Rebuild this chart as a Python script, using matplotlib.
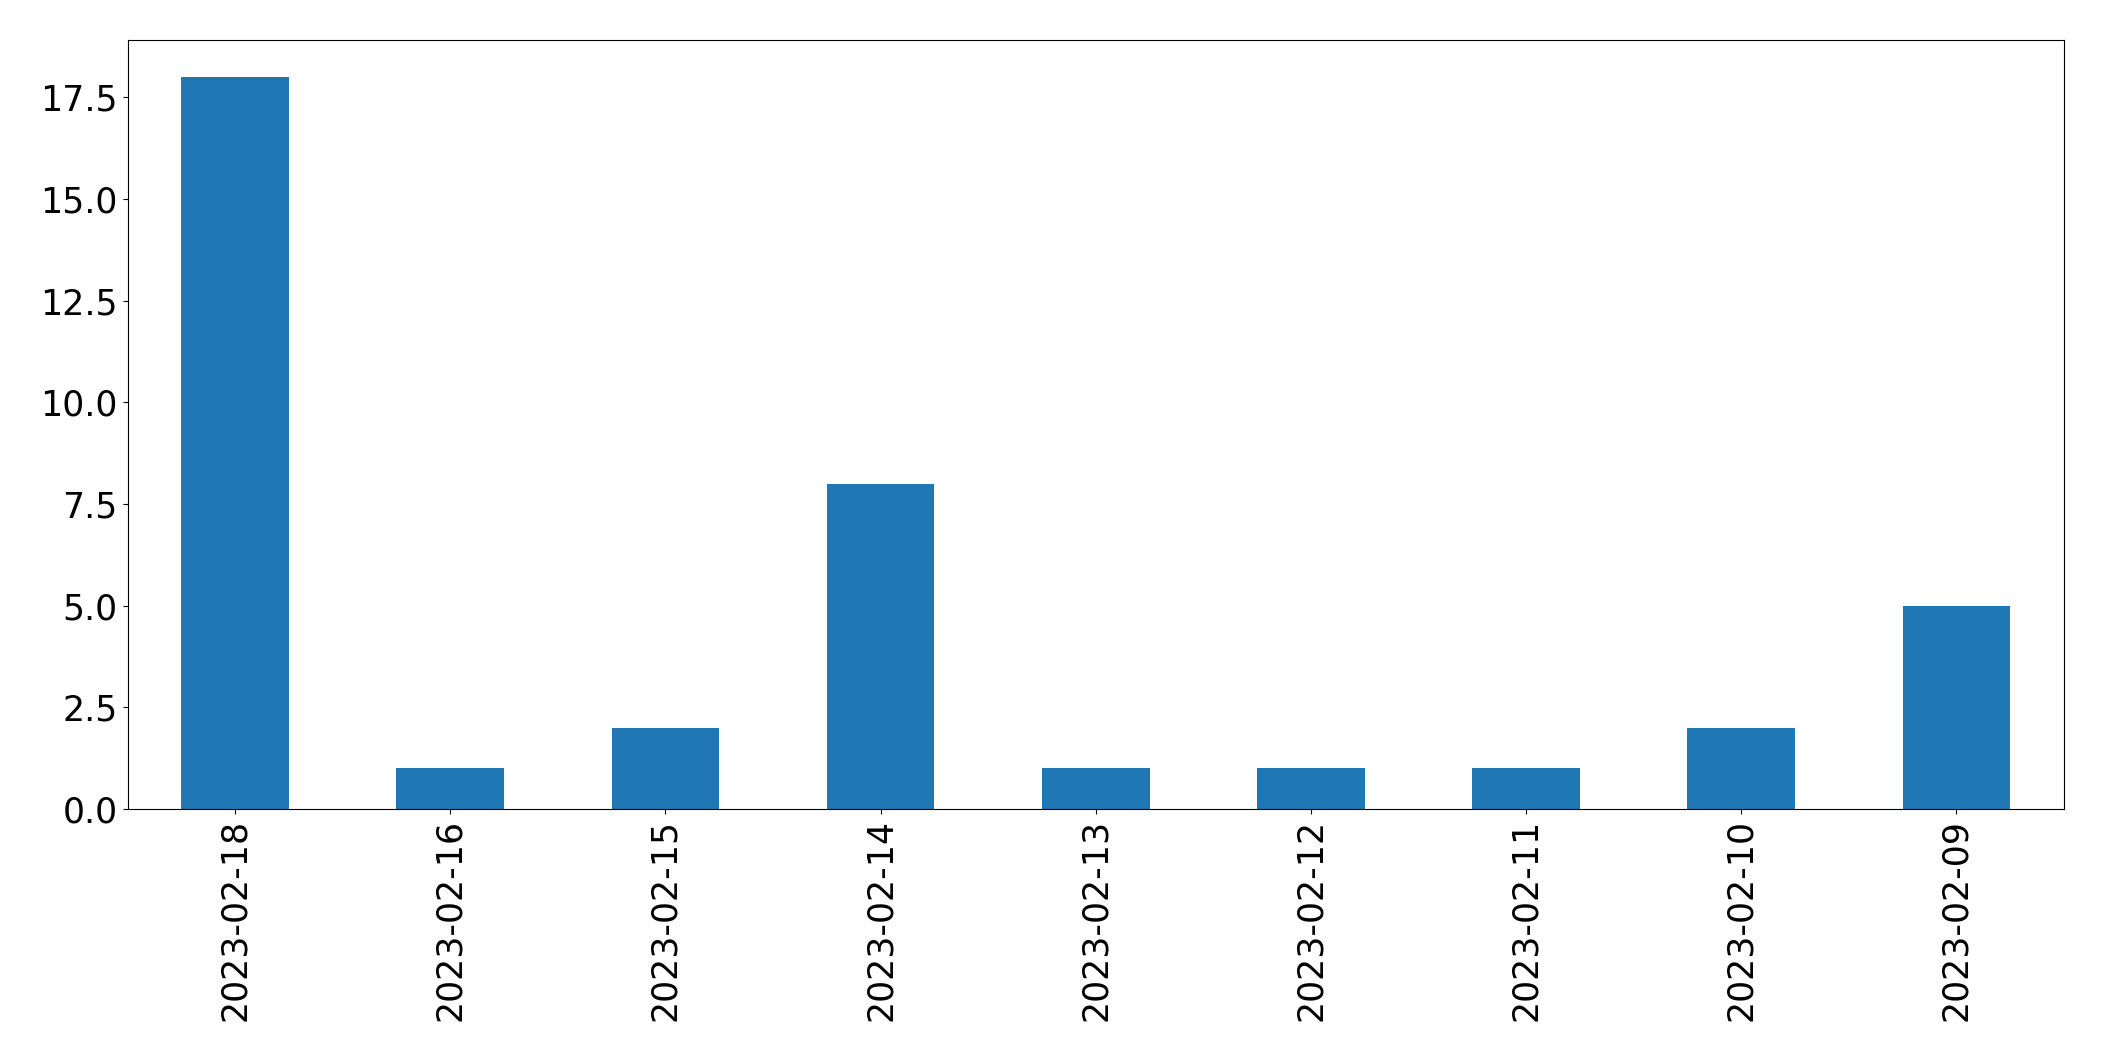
import matplotlib
matplotlib.use("Agg")
import matplotlib.pyplot as plt

dates = ["2023-02-18", "2023-02-16", "2023-02-15", "2023-02-14", "2023-02-13",
         "2023-02-12", "2023-02-11", "2023-02-10", "2023-02-09"]
counts = [18, 1, 2, 8, 1, 1, 1, 2, 5]

fig = plt.figure(figsize=(21.04, 10.61), dpi=100)
ax = fig.add_axes([0.0606, 0.2375, 0.9204, 0.7245])
x = list(range(len(dates)))
ax.bar(x, counts, width=0.5, color="#1f77b4")
ax.set_xlim(-0.5, len(dates) - 0.5)
ax.set_ylim(0, 18.9)
ax.set_xticks(x)
ax.set_xticklabels(dates, rotation=90)
ax.tick_params(labelsize=25)
fig.savefig("out.png", dpi=100)
